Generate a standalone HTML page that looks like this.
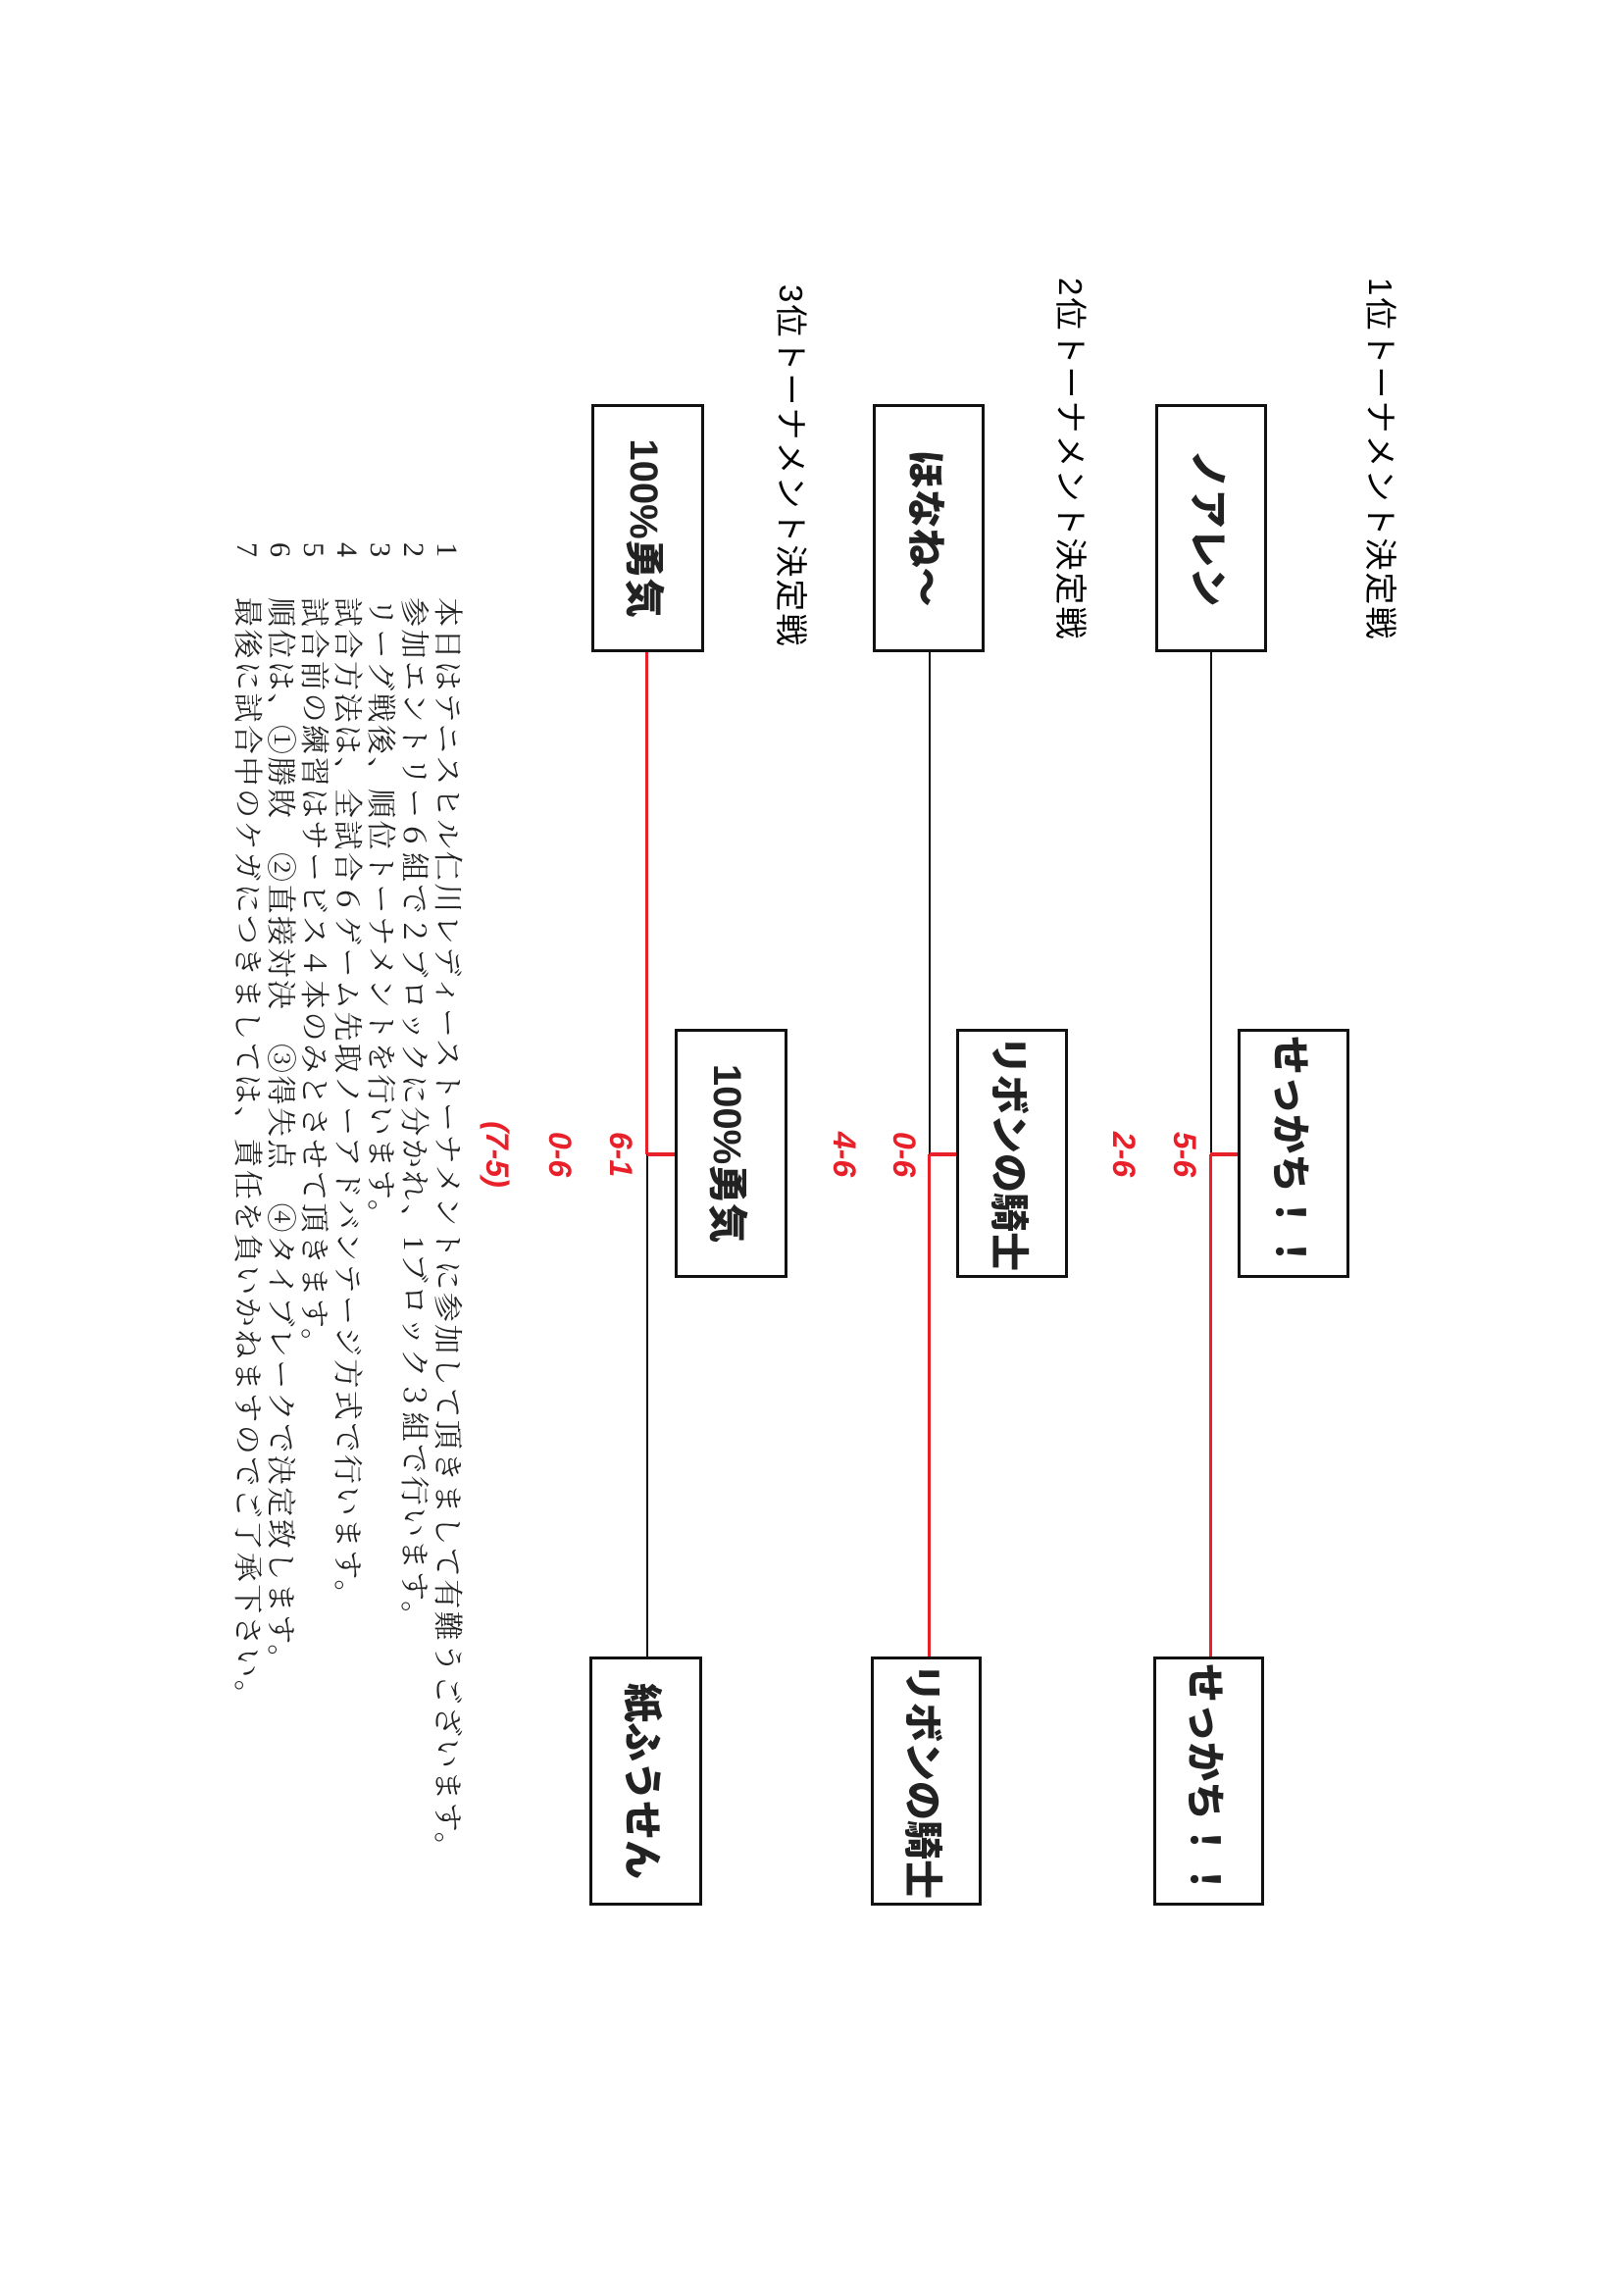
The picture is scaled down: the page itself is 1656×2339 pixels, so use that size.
<!DOCTYPE html>
<html><head><meta charset="utf-8"><style>
html,body{margin:0;padding:0;background:#fff;}
body{width:1656px;height:2339px;position:relative;overflow:hidden;}
#L{position:absolute;left:0;top:0;width:2339px;height:1656px;transform-origin:0 0;transform:translate(1656px,0) rotate(90deg);}
.t{position:absolute;white-space:nowrap;font-family:"Liberation Sans","Noto Sans CJK JP",sans-serif;}
.h{font-size:33px;letter-spacing:2px;line-height:40px;}
.b{position:absolute;border:3px solid #111;box-sizing:border-box;display:flex;align-items:center;justify-content:center;font-family:"Liberation Sans","Noto Sans CJK JP",sans-serif;font-weight:900;font-size:40px;color:#222;background:#fff;}
.ln{position:absolute;}
.k{background:#111;}
.r{background:#e8202a;}
.s{position:absolute;color:#e8202a;font-family:"Liberation Sans",sans-serif;font-weight:bold;font-style:italic;font-size:32px;line-height:40px;width:120px;text-align:center;}
.n{position:absolute;font-family:"Liberation Serif","Noto Serif CJK SC",serif;font-size:30px;line-height:34px;white-space:nowrap;color:#222;}
.m{letter-spacing:2.5px;}
</style></head><body><div id="L">
<div class="t h" style="left:283px;top:229px">1位トーナメント決定戦</div>
<div class="t h" style="left:283px;top:545px">2位トーナメント決定戦</div>
<div class="t h" style="left:290px;top:830px">3位トーナメント決定戦</div>

<div class="ln k" style="left:665px;top:420px;width:512px;height:2px"></div>
<div class="ln r" style="left:1177px;top:420px;width:512px;height:3px"></div>
<div class="ln r" style="left:1175px;top:394px;width:4px;height:28px"></div>
<div class="ln k" style="left:665px;top:707px;width:512px;height:2px"></div>
<div class="ln r" style="left:1177px;top:707px;width:512px;height:3px"></div>
<div class="ln r" style="left:1175px;top:680px;width:4px;height:28px"></div>
<div class="ln r" style="left:665px;top:995px;width:512px;height:3px"></div>
<div class="ln k" style="left:1177px;top:995px;width:512px;height:2px"></div>
<div class="ln r" style="left:1175px;top:968px;width:4px;height:28px"></div>

<div class="b" style="left:412px;top:364px;width:253px;height:114px">ノアレン</div>
<div class="b" style="left:412px;top:652px;width:253px;height:114px">ほなね〜</div>
<div class="b" style="left:412px;top:938px;width:253px;height:115px">100%勇気</div>

<div class="b" style="left:1049px;top:280px;width:254px;height:114px">せっかち！！</div>
<div class="b" style="left:1049px;top:567px;width:254px;height:114px">リボンの騎士</div>
<div class="b" style="left:1049px;top:853px;width:254px;height:115px">100%勇気</div>

<div class="b" style="left:1689px;top:367px;width:254px;height:113px">せっかち！！</div>
<div class="b" style="left:1689px;top:655px;width:254px;height:113px">リボンの騎士</div>
<div class="b" style="left:1689px;top:940px;width:254px;height:115px">紙ふうせん</div>

<div class="s" style="left:1117px;top:428px">5-6</div>
<div class="s" style="left:1117px;top:490px">2-6</div>
<div class="s" style="left:1117px;top:714px">0-6</div>
<div class="s" style="left:1117px;top:775px">4-6</div>
<div class="s" style="left:1117px;top:1003px">6-1</div>
<div class="s" style="left:1117px;top:1065px">0-6</div>
<div class="s" style="left:1117px;top:1129px">(7-5)</div>

<div class="n" style="left:553px;top:1184px">1</div>
<div class="n" style="left:553px;top:1218px">2</div>
<div class="n" style="left:553px;top:1252px">3</div>
<div class="n" style="left:553px;top:1286px">4</div>
<div class="n" style="left:553px;top:1320px">5</div>
<div class="n" style="left:553px;top:1354px">6</div>
<div class="n" style="left:553px;top:1388px">7</div>
<div class="n m" style="left:609px;top:1184px">本日はテニスヒル仁川レディーストーナメントに参加して頂きまして有難うございます。</div>
<div class="n m" style="left:609px;top:1218px">参加エントリー６組で２ブロックに分かれ、1ブロック３組で行います。</div>
<div class="n m" style="left:609px;top:1252px">リーグ戦後、順位トーナメントを行います。</div>
<div class="n m" style="left:609px;top:1286px">試合方法は、全試合６ゲーム先取ノーアドバンテージ方式で行います。</div>
<div class="n m" style="left:609px;top:1320px">試合前の練習はサービス４本のみとさせて頂きます。</div>
<div class="n m" style="left:609px;top:1354px">順位は、①勝敗　②直接対決　③得失点　④タイブレークで決定致します。</div>
<div class="n m" style="left:609px;top:1388px">最後に試合中のケガにつきましては、責任を負いかねますのでご了承下さい。</div>
</div></body></html>
